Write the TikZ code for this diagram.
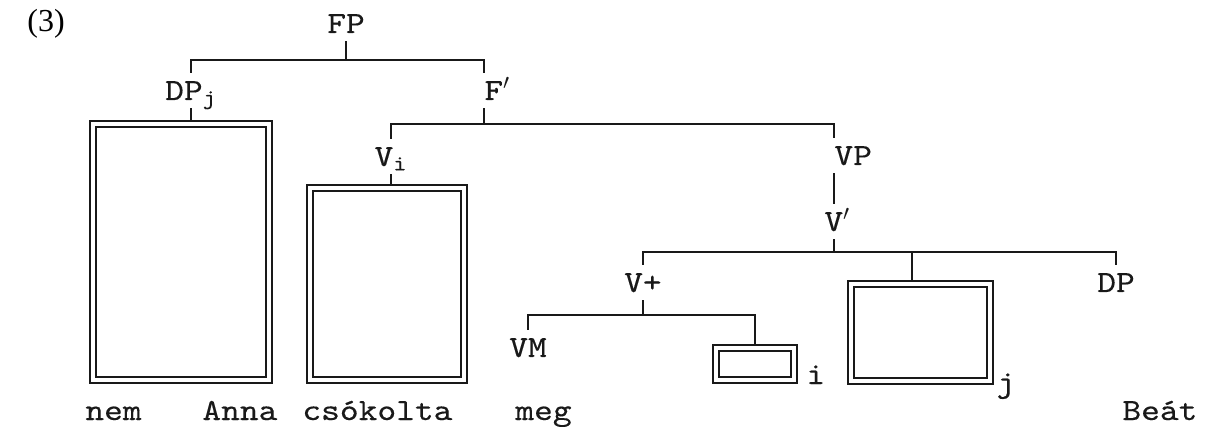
\documentclass[tikz,border=0pt]{standalone}
\usepackage{fontspec}
\setmainfont{Liberation Serif}
\setmonofont{lmmono10-regular.otf}[FakeStretch=1.16,FakeBold=0.3]
\usetikzlibrary{positioning}
\definecolor{ink}{RGB}{25,25,25}

\begin{document}
\begin{tikzpicture}[x=0.5pt,y=-0.5pt,font=\ttfamily\fontsize{15.4}{18}\selectfont,
    lab/.style={inner xsep=0pt,inner ysep=4pt,text height=9.4pt,text depth=0pt,anchor=base,text=ink},
    word/.style={inner sep=0pt,anchor=base west,text=ink},
    dbox/.style={draw=ink,double,double distance=2pt,line width=1pt,outer sep=2pt,inner sep=0pt},
    branch/.style={draw=ink,line width=1pt}]
  \useasboundingbox (0,0) rectangle (1205,427);

  % example number
  \node[font=\rmfamily\fontsize{16}{18}\selectfont,anchor=base west,inner sep=0pt] (exnum) at (27,32) {(3)};

  % labels
  \node[lab] (fp) at (346,33) {FP};
  \node[lab] (dpj) at (191,100) {DP\textsubscript{j}};
  \node[lab,anchor=base west] (fprime) at (484,100) {F$'$};
  \node[lab] (vi) at (391,166) {V\textsubscript{i}};
  \node[lab,anchor=base west] (vp) at (834,165) {VP};
  \node[lab,anchor=base west] (vprime) at (824,231) {V$'$};
  \node[lab] (vplus) at (643,292) {V+};
  \node[lab] (dp) at (1116,292) {DP};
  \node[lab] (vm) at (528,357) {VM};

  % empty (traced) constituents
  \node[dbox,minimum width=88pt,minimum height=128pt] (bx1) at (181,252) {};
  \node[dbox,minimum width=77pt,minimum height=96pt] (bx2) at (387,284) {};
  \node[dbox,minimum width=69.5pt,minimum height=48.5pt] (bx3) at (920.5,332.5) {};
  \node[dbox,minimum width=39pt,minimum height=16pt] (bx4) at (755,364) {};
  \node[word] (idxi) at (806,384) {i};
  \node[word] (idxj) at (996,392) {j};

  % words
  \node[word] (wnem) at (85,420) {nem};
  \node[word] (wanna) at (202,420) {Anna};
  \node[word] (wcsok) at (302,420) {csókolta};
  \node[word] (wmeg) at (515,420) {meg};
  \node[word] (wbeat) at (1122,420) {Beát};

  % bar levels
  \coordinate (fpbar) at (346,60);
  \coordinate (fbar) at (484,124);
  \coordinate (vpbar) at (834,252);
  \coordinate (mid) at (912,252);
  \coordinate (vplbar) at (643,315);

  % branches
  \draw[branch] (fp.south) -- (fpbar);
  \draw[branch] (dpj.north) |- (fpbar) -| (fprime.north west);
  \draw[branch] (dpj.south) -- (dpj.south |- bx1.north);
  \draw[branch] (fprime.south west) -- (fbar);
  \draw[branch] (vi.north) |- (fbar) -| (vp.north west);
  \draw[branch] (vi.south) -- (vi.south |- bx2.north);
  \draw[branch] (vp.south west) -- (vp.south west |- vprime.north);
  \draw[branch] (vpbar |- vprime.south) -- (vpbar);
  \draw[branch] (vplus.north) |- (vpbar) -| (dp.north);
  \draw[branch] (mid) -- (mid |- bx3.north);
  \draw[branch] (vplus.south) -- (vplbar);
  \draw[branch] (vm.north) |- (vplbar) -| (bx4.north);
\end{tikzpicture}
\end{document}
